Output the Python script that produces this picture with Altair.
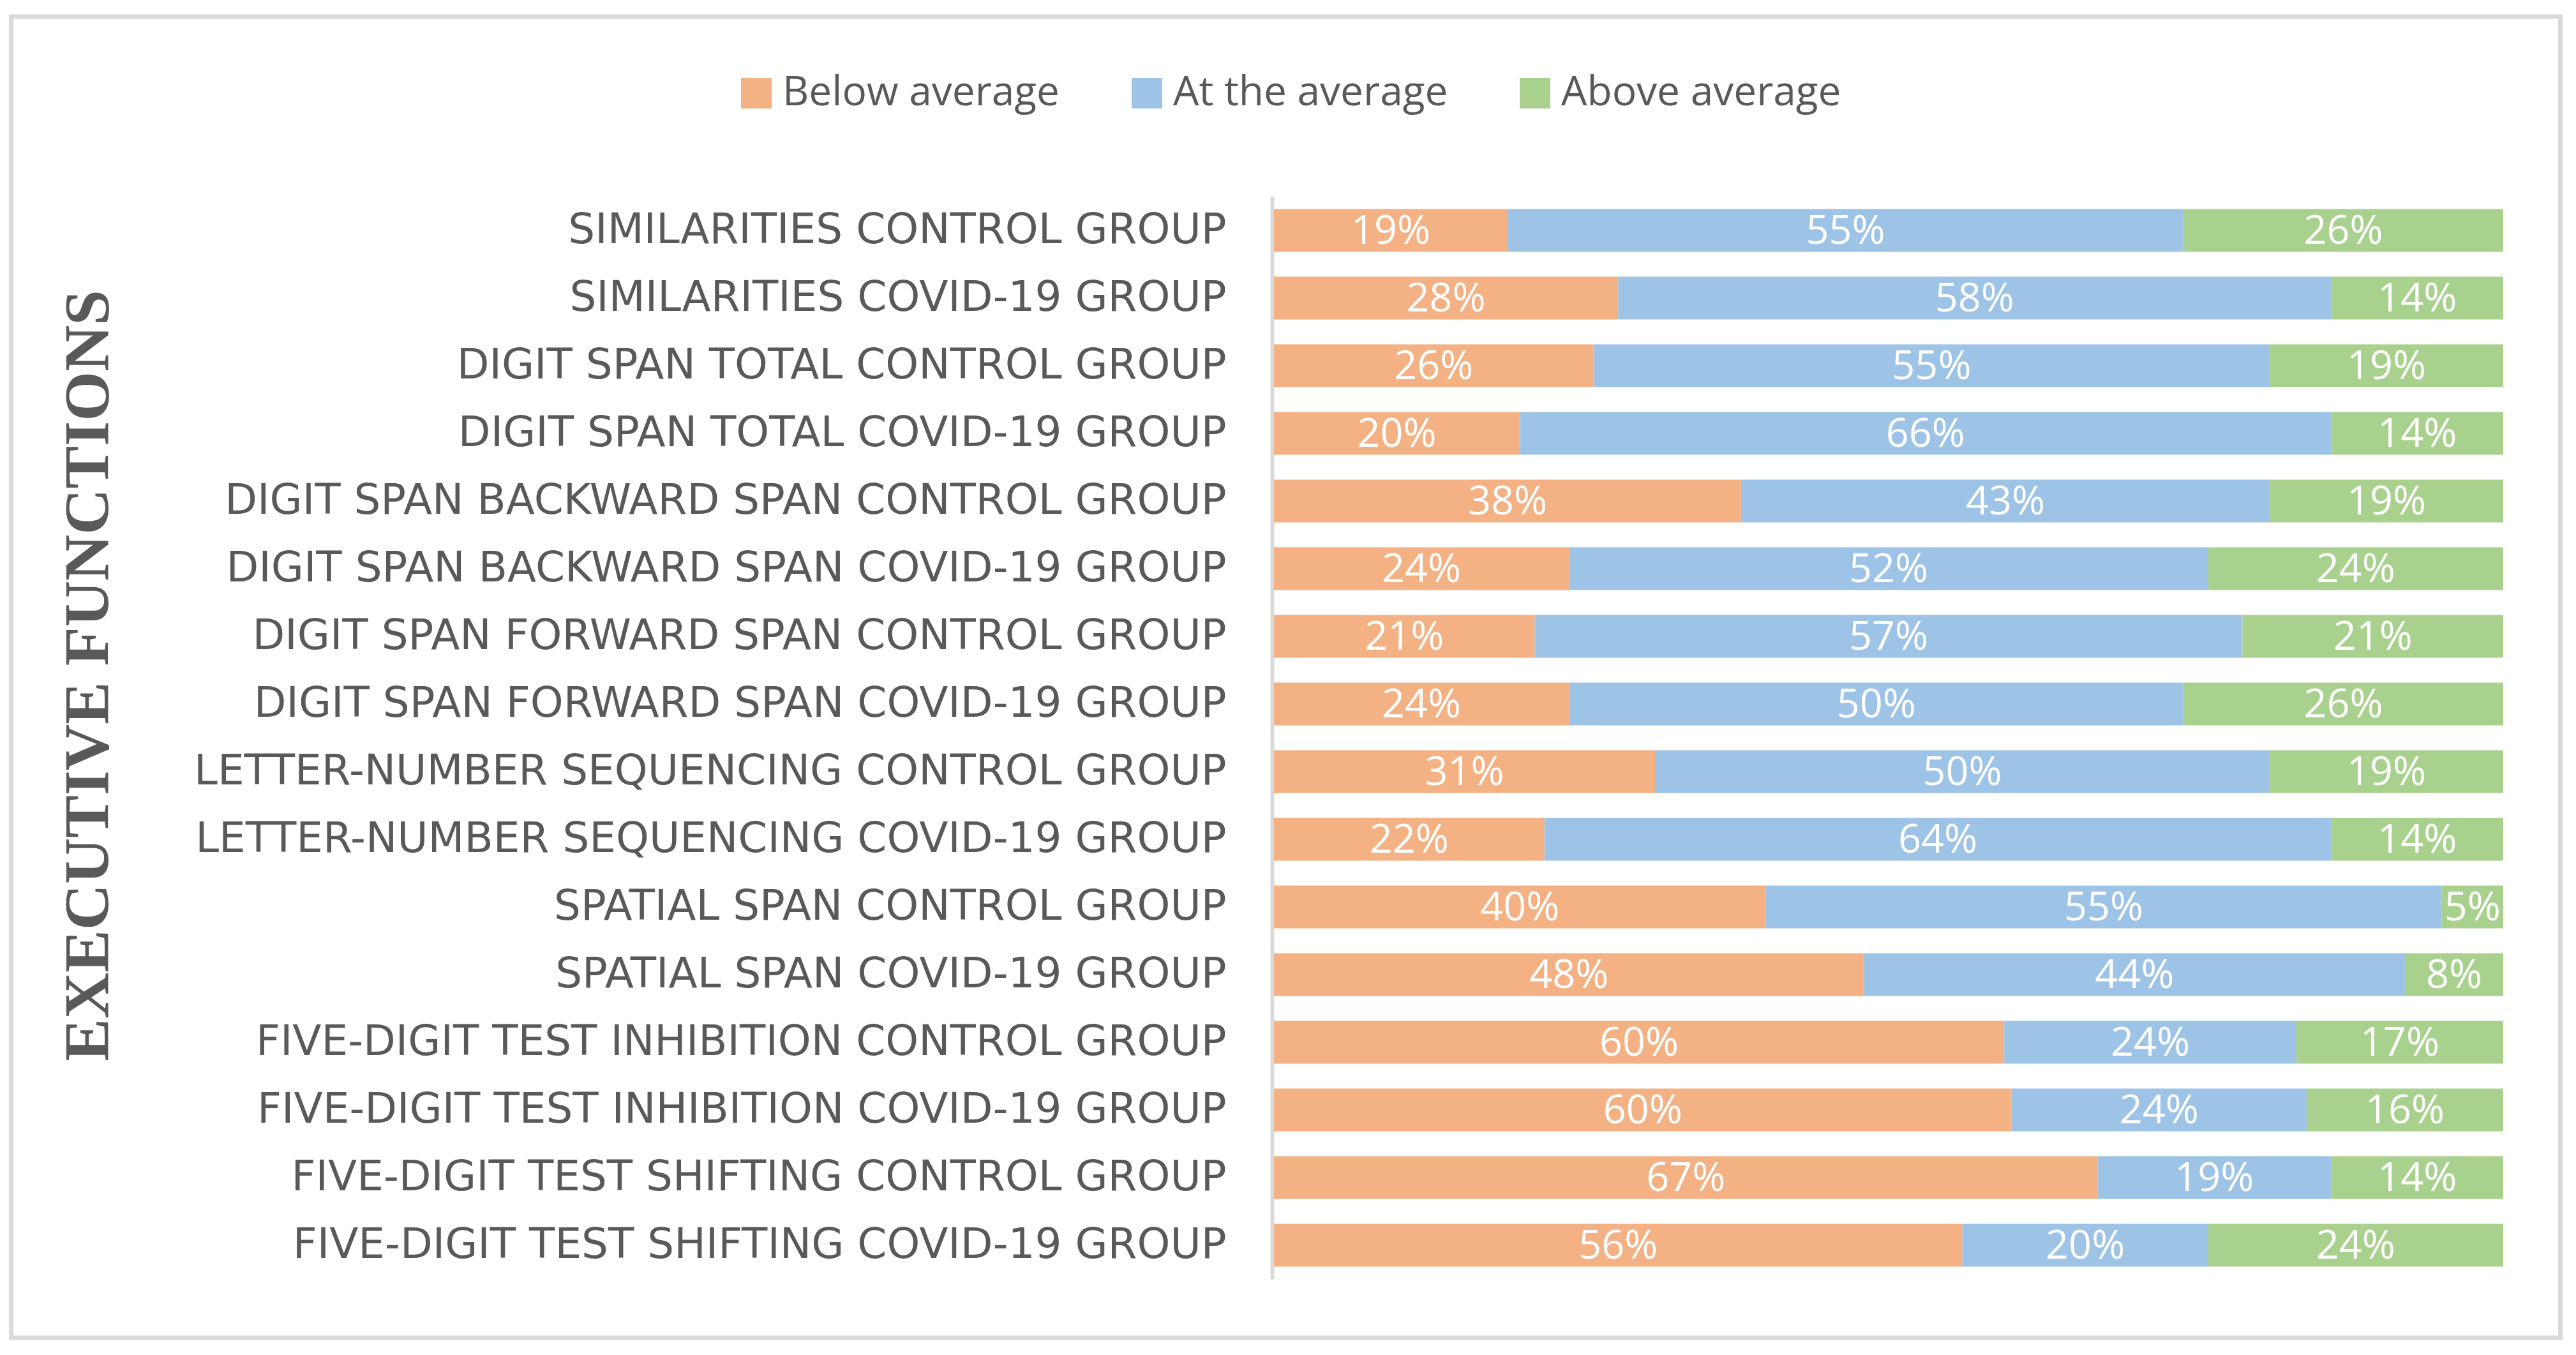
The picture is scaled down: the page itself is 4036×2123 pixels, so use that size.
import altair as alt
import pandas as pd

labels = [
    "SIMILARITIES CONTROL GROUP",
    "SIMILARITIES COVID-19 GROUP",
    "DIGIT SPAN TOTAL CONTROL GROUP",
    "DIGIT SPAN TOTAL COVID-19 GROUP",
    "DIGIT SPAN BACKWARD SPAN CONTROL GROUP",
    "DIGIT SPAN BACKWARD SPAN COVID-19 GROUP",
    "DIGIT SPAN FORWARD SPAN CONTROL GROUP",
    "DIGIT SPAN FORWARD SPAN COVID-19 GROUP",
    "LETTER-NUMBER SEQUENCING CONTROL GROUP",
    "LETTER-NUMBER SEQUENCING COVID-19 GROUP",
    "SPATIAL SPAN CONTROL GROUP",
    "SPATIAL SPAN COVID-19 GROUP",
    "FIVE-DIGIT TEST INHIBITION CONTROL GROUP",
    "FIVE-DIGIT TEST INHIBITION COVID-19 GROUP",
    "FIVE-DIGIT TEST SHIFTING CONTROL GROUP",
    "FIVE-DIGIT TEST SHIFTING COVID-19 GROUP",
]
below = [19, 28, 26, 20, 38, 24, 21, 24, 31, 22, 40, 48, 60, 60, 67, 56]
at_avg = [55, 58, 55, 66, 43, 52, 57, 50, 50, 64, 55, 44, 24, 24, 19, 20]
above = [26, 14, 19, 14, 19, 24, 21, 26, 19, 14, 5, 8, 17, 16, 14, 24]

series = ["Below average", "At the average", "Above average"]
colors = ["#F4B183", "#9DC3E6", "#A9D18E"]

rows = []
for i, lab in enumerate(labels):
    for k, (name, vals) in enumerate(zip(series, [below, at_avg, above])):
        rows.append({"label": lab, "category": name, "value": vals[i], "order": k})
df = pd.DataFrame(rows)

TXT = "#595959"

base = alt.Chart(df).transform_stack(
    stack="value",
    groupby=["label"],
    as_=["v0", "v1"],
    offset="normalize",
    sort=[alt.SortField("order", order="ascending")],
).transform_calculate(
    mid="(datum.v0 + datum.v1) / 2",
    txt="datum.value + '%'",
)

y_enc = alt.Y(
    "label:N",
    sort=labels,
    scale=alt.Scale(paddingInner=0.368, paddingOuter=0.184),
    axis=alt.Axis(
        title="EXECUTIVE FUNCTIONS",
        titleFont="Liberation Serif",
        titleFontWeight="bold",
        titleFontSize=100,
        titleColor=TXT,
        titleAngle=270,
        titleAlign="center",
        titleBaseline="middle",
        titleX=-1855,
        titleY=750,
        labelFont="DejaVu Sans",
        labelFontSize=66,
        labelColor=TXT,
        labelLimit=3000,
        labelPadding=72,
        ticks=False,
        domainColor="#D9D9D9",
        domainWidth=6,
        offset=3,
        grid=False,
    ),
)

x_scale = alt.Scale(domain=[0, 1])

bars = base.mark_bar(cornerRadius=0).encode(
    x=alt.X("v0:Q", scale=x_scale, axis=None),
    x2="v1:Q",
    y=y_enc,
    color=alt.Color(
        "category:N",
        scale=alt.Scale(domain=series, range=colors),
        sort=series,
        legend=alt.Legend(
            title=None,
            orient="none",
            legendX=-843,
            legendY=-194,
            direction="horizontal",
            symbolType="square",
            symbolSize=2304,
            symbolStrokeWidth=0,
            symbolOpacity=1,
            labelFont="Open Sans",
            labelFontSize=64,
            labelColor=TXT,
            labelOffset=9,
            labelLimit=2000,
            columnPadding=104,
            padding=0,
        ),
    ),
)

texts = base.mark_text(
    color="white", font="Open Sans", fontSize=63, align="center", baseline="middle", dy=2
).encode(
    x=alt.X("mid:Q", scale=x_scale, axis=None),
    y=alt.Y("label:N", sort=labels),
    text="txt:N",
)

frame = alt.Chart(alt.Data(values=[{"f": 1}])).mark_rect(
    fill=None, stroke="#D9D9D9", strokeWidth=7
).encode(
    x=alt.value(-1978.5),
    x2=alt.value(2015.5),
    y=alt.value(-282),
    y2=alt.value(1788),
)

chart = alt.layer(frame, bars, texts).properties(
    width=1926,
    height=1696,
    autosize=alt.AutoSizeParams(type="none"),
    padding={"left": 1988, "top": 300, "right": 98, "bottom": 100},
    background="white",
).configure_view(stroke=None)

chart.save("out.html", embed_options={"renderer": "svg", "actions": False})
